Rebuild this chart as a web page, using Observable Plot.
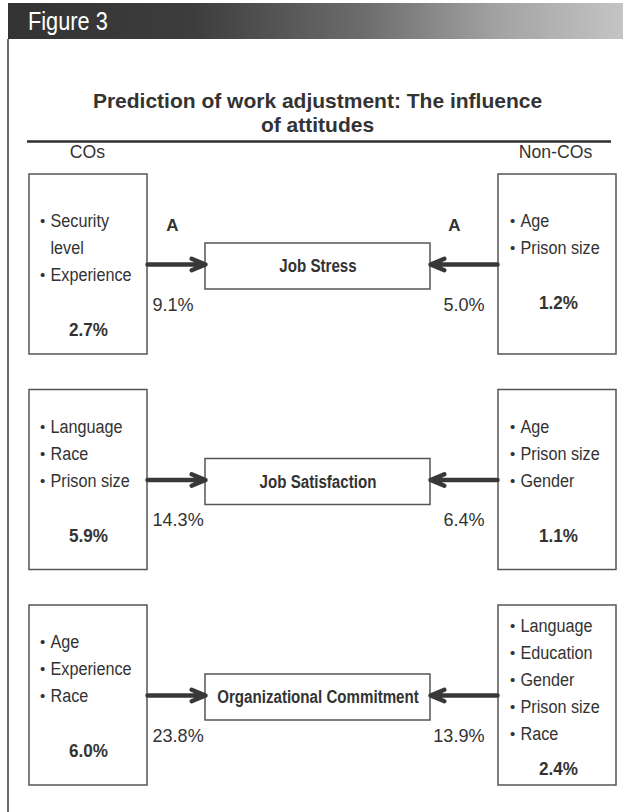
<!DOCTYPE html>
<html>
<head>
<meta charset="utf-8">
<script src="https://cdn.jsdelivr.net/npm/d3@7"></script>
<script src="https://cdn.jsdelivr.net/npm/@observablehq/plot@0.6"></script>
<style>
  html, body { margin: 0; padding: 0; background: #fff; }
  #page { position: relative; width: 623px; height: 812px; overflow: hidden; background: #fff; }
  #frameline { position: absolute; left: 7px; top: 39px; width: 2px; bottom: 0; background: #6a6a6a; }
  #head { position: absolute; left: 8px; right: 0; top: 3px; height: 36px;
    background: linear-gradient(90deg, #333 0%, #3d3d3d 30%, #6d6d6d 58%, #a3a3a3 80%, #c4c4c4 100%);
    color: #fff; font-family: "Liberation Sans", Arial, sans-serif;
    font-size: 25px; line-height: 36px; padding-left: 20px; box-sizing: border-box; }
  #head span { display: inline-block; transform: scaleX(0.87); transform-origin: left center; }
  #title { position: absolute; top: 89px; left: 6px; width: 623px; text-align: center;
    font-family: "Liberation Sans", Arial, sans-serif; font-weight: bold; font-size: 21px;
    line-height: 24px; color: #333; }
  #chart { position: absolute; left: 0; top: 132px; }
</style>
</head>
<body>
<div id="page">
  <div id="frameline"></div>
  <div id="head"><span>Figure 3</span></div>
  <div id="title">Prediction of work adjustment: The influence<br>of attitudes</div>
  <div id="chart"></div>
</div>
<script>
// ---- data ----
const groups = ["COs", "Non-COs"];
const outcomes = ["Job Stress", "Job Satisfaction", "Organizational Commitment"];
const coPredictors = [
  ["Security level", "Experience"],
  ["Language", "Race", "Prison size"],
  ["Age", "Experience", "Race"]
];
const nonCoPredictors = [
  ["Age", "Prison size"],
  ["Age", "Prison size", "Gender"],
  ["Language", "Education", "Gender", "Prison size", "Race"]
];
const coBoxValues = [2.7, 5.9, 6.0];       // % explained by background variables
const nonCoBoxValues = [1.2, 1.1, 2.4];
const coPathValues = [9.1, 14.3, 23.8];     // % explained by attitudes
const nonCoPathValues = [5.0, 6.4, 13.9];
const coFlags = ["A", "", ""];
const nonCoFlags = ["A", "", ""];

// ---- layout (page pixel units) ----
const W = 623, TOP = 132, H = 812 - TOP;
const rowY = i => 264 + i * 215.5;
const fmt = v => d3.format(".1f")(v) + "%";
const ink = "#333";
const sans = "'Liberation Sans', Arial, sans-serif";

const side = [
  {preds: coPredictors, box: coBoxValues, path: coPathValues, flags: coFlags,
   bx1: 29, bx2: 147, bullet: 42, textX: 50, valX: 88, arrowFrom: 147, arrowTo: 205,
   pathX: 152, pathAnchor: "start", flagX: 172},
  {preds: nonCoPredictors, box: nonCoBoxValues, path: nonCoPathValues, flags: nonCoFlags,
   bx1: 498, bx2: 616, bullet: 512, textX: 520, valX: 558, arrowFrom: 497, arrowTo: 430,
   pathX: 484, pathAnchor: "end", flagX: 454}
];

const boxes = [], bullets = [], items = [], vals = [], arrows = [], paths = [], flags = [], centers = [];
outcomes.forEach((o, i) => {
  const cy = rowY(i);
  centers.push({label: o, x1: 205, x2: 430, y1: cy - 21, y2: cy + 25, cx: 317.5, cy: cy + 2});
  side.forEach(s => {
    const top = cy - 90;
    boxes.push({x1: s.bx1, x2: s.bx2, y1: top, y2: top + 180});
    const lines = [];
    s.preds[i].forEach(p => {
      if (p.length > 12) {
        const k = p.indexOf(" ");
        lines.push({t: p.slice(0, k), b: true});
        lines.push({t: p.slice(k + 1), b: false});
      } else lines.push({t: p, b: true});
    });
    const n = lines.length;
    const start = n >= 5 ? 21 : (i === 0 ? 47 : 37);
    lines.forEach((l, j) => {
      const y = top + start + j * 27;
      if (l.b) bullets.push({x: s.bullet, y});
      items.push({x: s.textX, y, t: l.t});
    });
    const gap = n >= 5 ? 35 : 55;
    vals.push({x: s.valX, y: top + start + (n - 1) * 27 + gap, t: fmt(s.box[i])});
    arrows.push({x1: s.arrowFrom, x2: s.arrowTo, y: cy});
    paths.push({x: s.pathX, y: cy + 40, t: fmt(s.path[i]), anchor: s.pathAnchor});
    if (s.flags[i]) flags.push({x: s.flagX, y: cy - 39, t: s.flags[i]});
  });
});

// horizontal squeeze per text mark (emulates a condensed face), in mark order
const squeeze = [0.93, 0.84, 1, 0.9, 0.95, 0.95, 0.95, 1];

const chart = Plot.plot({
  width: W, height: H,
  marginTop: 0, marginRight: 0, marginBottom: 0, marginLeft: 0,
  x: {domain: [0, W], range: [0, W], axis: null},
  y: {domain: [TOP, 812], range: [0, H], axis: null},
  style: {background: "transparent", color: ink},
  marks: [
    Plot.ruleY([141], {x1: 27, x2: 611, stroke: "#2e2e2e", strokeWidth: 2.5}),
    Plot.rect(boxes, {x1: "x1", x2: "x2", y1: "y1", y2: "y2", fill: "white", stroke: "#555", strokeWidth: 1.5}),
    Plot.rect(centers, {x1: "x1", x2: "x2", y1: "y1", y2: "y2", fill: "white", stroke: "#555", strokeWidth: 1.5}),
    Plot.arrow(arrows, {x1: "x1", x2: "x2", y1: "y", y2: "y", stroke: "#383838", strokeWidth: 4.5, headLength: 5, headAngle: 45}),
    Plot.text(groups, {x: [87, 555], y: [151, 151], text: d => d, fontFamily: sans, fontSize: 19, fill: ink}),
    Plot.text(centers, {x: "cx", y: "cy", text: "label", fontFamily: sans, fontWeight: "bold", fontSize: 18, fill: ink}),
    Plot.text(bullets, {x: "x", y: "y", text: () => "•", fontFamily: sans, fontSize: 15, fill: ink}),
    Plot.text(items, {x: "x", y: "y", text: "t", textAnchor: "start", fontFamily: sans, fontSize: 18, fill: ink}),
    Plot.text(vals, {x: "x", y: "y", text: "t", fontFamily: sans, fontWeight: "bold", fontSize: 18, fill: ink}),
    Plot.text(paths.filter(d => d.anchor === "start"), {x: "x", y: "y", text: "t", textAnchor: "start", fontFamily: sans, fontSize: 19, fill: ink}),
    Plot.text(paths.filter(d => d.anchor === "end"), {x: "x", y: "y", text: "t", textAnchor: "end", fontFamily: sans, fontSize: 19, fill: ink}),
    Plot.text(flags, {x: "x", y: "y", text: "t", fontFamily: sans, fontWeight: "bold", fontSize: 17, fill: ink})
  ]
});
document.getElementById("chart").appendChild(chart);
chart.querySelectorAll('g[aria-label="text"]').forEach((g, k) => {
  const f = squeeze[k];
  if (f === undefined || f === 1) return;
  g.querySelectorAll("text").forEach(t => {
    const L = t.getComputedTextLength();
    t.setAttribute("textLength", (L * f).toFixed(1));
    t.setAttribute("lengthAdjust", "spacingAndGlyphs");
  });
});
</script>
</body>
</html>
